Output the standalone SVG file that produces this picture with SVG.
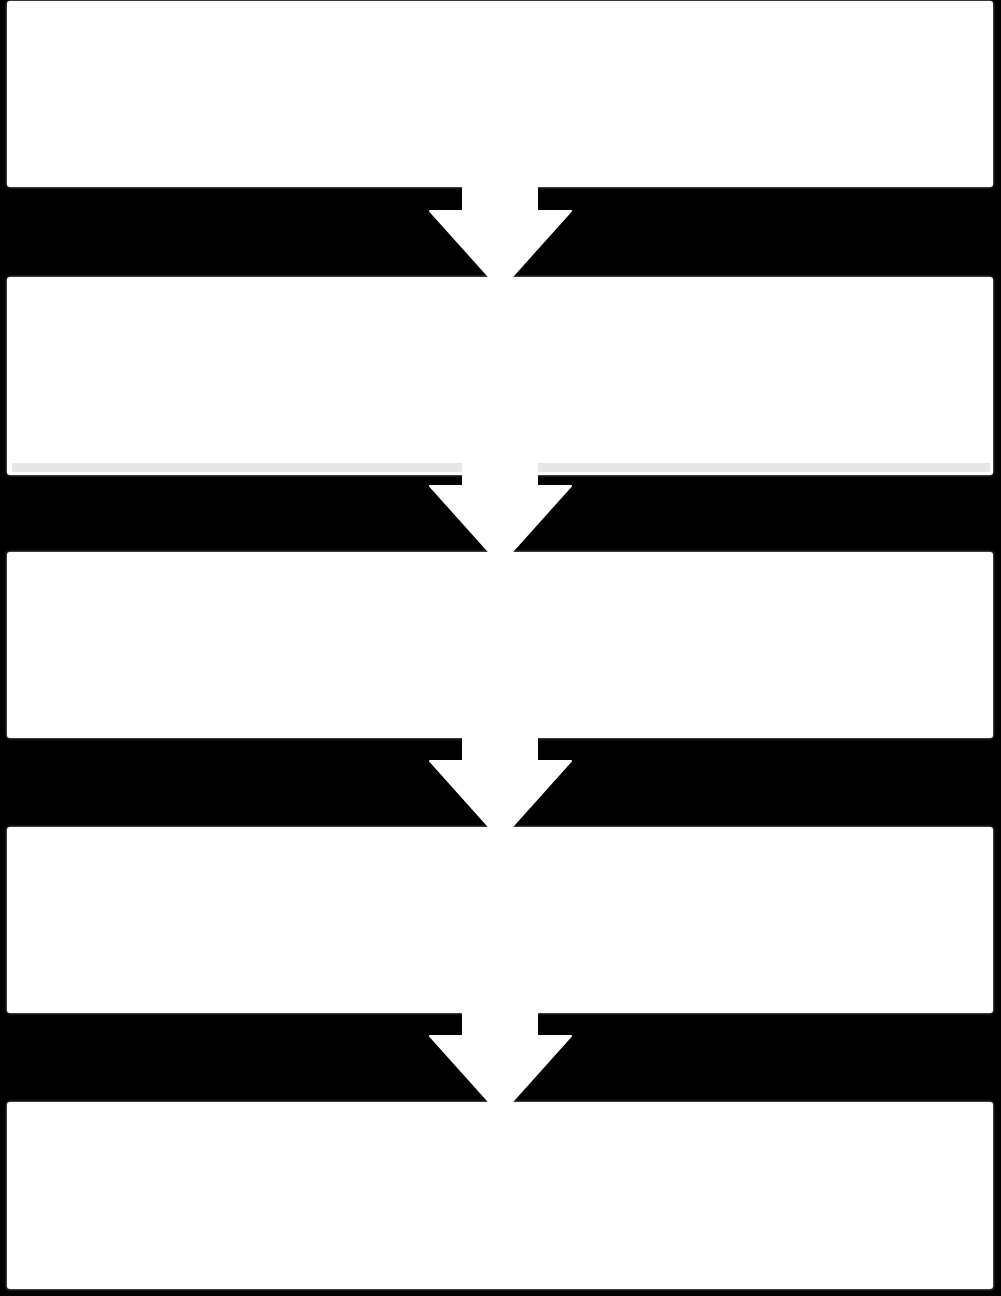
<svg xmlns="http://www.w3.org/2000/svg" width="1001" height="1296" viewBox="0 0 1001 1296">
<style>
.box{fill:#ffffff;}
.arrow{fill:#ffffff;stroke:#ffffff;stroke-width:2;stroke-linejoin:round;}
.band{fill:#e6e6e6;}
</style>
<defs>
<filter id="glow" x="-5%" y="-5%" width="110%" height="110%">
<feGaussianBlur in="SourceAlpha" stdDeviation="1.6" result="b"/>
<feFlood flood-color="#9a9a9a"/>
<feComposite in2="b" operator="in" result="s"/>
<feMerge><feMergeNode in="s"/><feMergeNode in="SourceGraphic"/></feMerge>
</filter>
</defs>
<rect x="0" y="0" width="1001" height="1296" fill="#000000"/>
<g id="node1" filter="url(#glow)"><rect class="box" x="7" y="1" width="986" height="186" rx="3"/></g>
<g id="node2" filter="url(#glow)"><rect class="box" x="7" y="277" width="986" height="198" rx="3"/><rect class="band" x="12" y="463" width="978" height="9"/></g>
<g id="node3" filter="url(#glow)"><rect class="box" x="7" y="552" width="986" height="186" rx="3"/></g>
<g id="node4" filter="url(#glow)"><rect class="box" x="7" y="827" width="986" height="186" rx="3"/></g>
<g id="node5" filter="url(#glow)"><rect class="box" x="7" y="1102" width="986" height="187" rx="3"/></g>
<g id="connectors">
<polygon class="arrow" points="463,180 537,180 537,211 571,211 510,279 491,279 430,211 463,211"/>
<polygon class="arrow" points="463,460 537,460 537,486 571,486 510,554 491,554 430,486 463,486"/>
<polygon class="arrow" points="463,730 537,730 537,761 571,761 510,829 491,829 430,761 463,761"/>
<polygon class="arrow" points="463,1005 537,1005 537,1036 571,1036 510,1104 491,1104 430,1036 463,1036"/>
</g>
</svg>
